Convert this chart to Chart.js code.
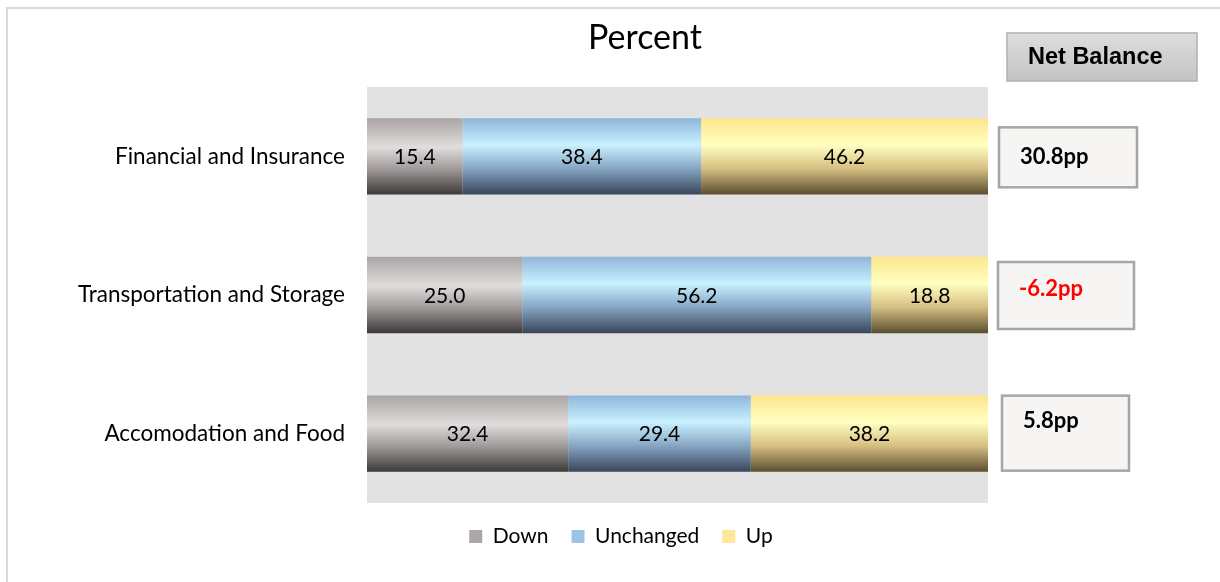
<!DOCTYPE html>
<html>
<head>
<meta charset="utf-8">
<script src="https://cdn.jsdelivr.net/npm/chart.js@4/dist/chart.umd.min.js"></script>
<style>
  html, body { margin: 0; padding: 0; background: #fff; }
  #wrap { width: 1220px; height: 582px; position: relative; }
</style>
</head>
<body>
<div id="wrap"><canvas id="chart"></canvas></div>
<script>
// survey responses by sector, percent of firms
var sectors = ['Financial and Insurance', 'Transportation and Storage', 'Accomodation and Food'];
var down = [15.4, 25.0, 32.4];
var unchanged = [38.4, 56.2, 29.4];
var up = [46.2, 18.8, 38.2];

var seriesNames = ['Down', 'Unchanged', 'Up'];
var legendColors = ['#aba7a7', '#9dc3e6', '#ffe699'];

// vertical shading stops for each series (top -> bottom)
var shades = [
  [[0, '#aaa4a4'], [0.38, '#e2dddd'], [0.68, '#9c9696'], [1, '#3d3939']],
  [[0, '#8fb6da'], [0.35, '#c9f1ff'], [0.66, '#86a5c3'], [1, '#38465a']],
  [[0, '#fde68c'], [0.35, '#ffffc0'], [0.66, '#d6bf82'], [1, '#5b4e30']]
];

// net balance boxes beside each bar
var boxLayout = [
  { x: 999, w: 138, dy: -29, h: 60, ty: 30 },
  { x: 998, w: 136, dy: -33, h: 67, ty: 27 },
  { x: 1002, w: 127, dy: -38, h: 75, ty: 25 }
];

var catPct = 0.55;

function barFill(ctx, seriesIdx) {
  var chart = ctx.chart;
  var area = chart.chartArea;
  var yScale = chart.scales.y;
  if (!area || !yScale) return legendColors[seriesIdx];
  var cy = yScale.getPixelForValue(ctx.dataIndex);
  var half = (area.bottom - area.top) / sectors.length * catPct / 2;
  var g = chart.ctx.createLinearGradient(0, cy - half, 0, cy + half);
  shades[seriesIdx].forEach(function (s) { g.addColorStop(s[0], s[1]); });
  return g;
}

var frameAndPanel = {
  id: 'frameAndPanel',
  beforeDraw: function (chart) {
    var c = chart.ctx, a = chart.chartArea;
    c.save();
    c.fillStyle = '#e2e2e2';
    c.fillRect(a.left, a.top, a.right - a.left, a.bottom - a.top);
    c.strokeStyle = '#d9d9d9';
    c.lineWidth = 2;
    c.beginPath();
    c.moveTo(7, 582);
    c.lineTo(7, 8);
    c.lineTo(1220, 8);
    c.stroke();
    c.fillStyle = '#000';
    c.font = '34px Lato';
    c.textAlign = 'center';
    c.textBaseline = 'middle';
    c.fillText('Percent', 645, 38);
    c.restore();
  },
  afterDatasetsDraw: function (chart) {
    var c = chart.ctx;
    c.save();
    c.font = '21px Lato';
    c.fillStyle = '#000';
    c.textAlign = 'center';
    c.textBaseline = 'middle';
    chart.data.datasets.forEach(function (ds, i) {
      chart.getDatasetMeta(i).data.forEach(function (bar, j) {
        var cx = (bar.x + bar.base) / 2;
        c.fillText(ds.data[j].toFixed(1), cx, bar.y + 1);
      });
    });
    c.restore();
  },
  afterDraw: function (chart) {
    var c = chart.ctx, yScale = chart.scales.y;
    c.save();
    // header box
    var hg = c.createLinearGradient(0, 33, 0, 81);
    hg.addColorStop(0, '#dedede');
    hg.addColorStop(1, '#c3c3c3');
    c.fillStyle = hg;
    c.fillRect(1007, 33, 190, 48);
    c.strokeStyle = '#b0b0b0';
    c.lineWidth = 1.5;
    c.strokeRect(1007, 33, 190, 48);
    c.fillStyle = '#000';
    c.font = 'bold 23.5px "Liberation Sans"';
    c.textAlign = 'left';
    c.textBaseline = 'middle';
    c.fillText('Net Balance', 1028, 58);

    sectors.forEach(function (s, i) {
      var net = up[i] - down[i];
      var b = boxLayout[i];
      var cy = yScale.getPixelForValue(i);
      var top = cy + b.dy;
      c.fillStyle = '#f6f5f4';
      c.fillRect(b.x, top, b.w, b.h);
      c.strokeStyle = '#a6a6a6';
      c.lineWidth = 2.5;
      c.strokeRect(b.x, top, b.w, b.h);
      c.fillStyle = net < 0 ? '#ff0000' : '#000';
      c.font = 'bold 22px Lato';
      c.fillText(net.toFixed(1) + 'pp', b.x + 21, top + b.ty);
    });
    c.restore();
  }
};

var datasets = [down, unchanged, up].map(function (vals, i) {
  return {
    label: seriesNames[i],
    data: vals,
    backgroundColor: function (ctx) { return barFill(ctx, i); },
    borderWidth: 0,
    categoryPercentage: catPct,
    barPercentage: 1
  };
});

new Chart(document.getElementById('chart'), {
  type: 'bar',
  data: { labels: sectors, datasets: datasets },
  plugins: [frameAndPanel],
  options: {
    indexAxis: 'y',
    responsive: true,
    maintainAspectRatio: false,
    animation: false,
    layout: { padding: { left: 22, right: 0, top: 87, bottom: 25 } },
    scales: {
      x: { stacked: true, min: 0, max: 100, display: false },
      y: {
        stacked: true,
        grid: { display: false, drawTicks: false },
        border: { display: false },
        ticks: { color: '#000', font: { family: 'Lato', size: 22.5 }, padding: 22 },
        afterFit: function (scale) { scale.width = 345; }
      },
      // empty axis that reserves room for the net balance column
      side: {
        type: 'category',
        position: 'right',
        grid: { display: false, drawTicks: false },
        border: { display: false },
        ticks: { display: false },
        afterFit: function (scale) { scale.width = 232; }
      }
    },
    plugins: {
      title: { display: false },
      tooltip: { enabled: false },
      legend: {
        position: 'bottom',
        labels: {
          color: '#000',
          font: { family: 'Lato', size: 21 },
          boxWidth: 13,
          boxHeight: 13,
          padding: 23,
          generateLabels: function (chart) {
            return seriesNames.map(function (n, i) {
              return { text: n, fillStyle: legendColors[i], strokeStyle: 'transparent', lineWidth: 0, datasetIndex: i, fontColor: '#000' };
            });
          }
        }
      }
    }
  }
});
</script>
</body>
</html>
